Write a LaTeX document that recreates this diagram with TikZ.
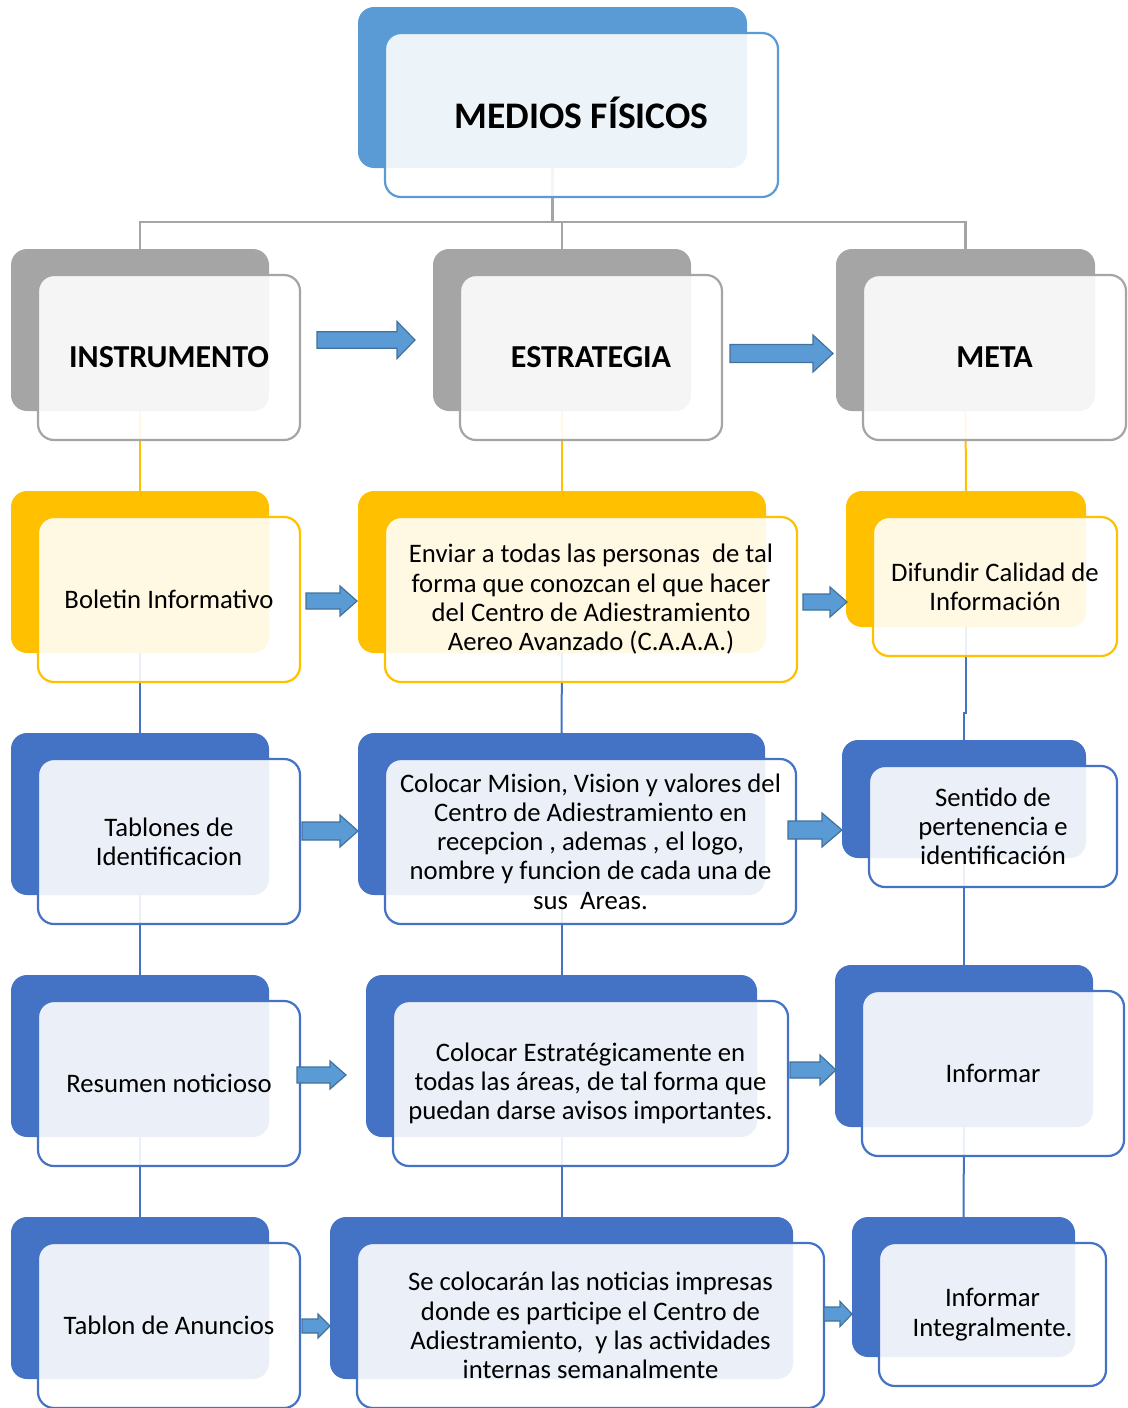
\documentclass[tikz,border=0pt]{standalone}
\usepackage{fontspec}
\setmainfont{Carlito}
\usetikzlibrary{backgrounds}

\definecolor{skyblue}{HTML}{5B9BD5}
\definecolor{midgray}{HTML}{A5A5A5}
\definecolor{gold}{HTML}{FFC000}
\definecolor{royal}{HTML}{4472C4}
\definecolor{arrowedge}{HTML}{41719C}

\newcommand\bodyfont{\fontsize{26.7}{29.3}\selectfont}
\newcommand\headfont{\fontsize{32}{36}\selectfont\bfseries}
\newcommand\rootfont{\fontsize{37.5}{42}\selectfont\bfseries}

\tikzset{
  backbox/.style={rectangle, rounded corners=16pt, fill=#1, draw=none,
    inner sep=0pt, outer sep=0pt},
  frontbox/.style={rectangle, rounded corners=16pt, draw=#1, line width=2.2pt,
    fill=white, fill opacity=0.89, text opacity=1, inner sep=0pt, outer sep=0pt,
    align=center, font=\bodyfont},
  link/.style={draw=#1, line width=2pt},
  blockarrow/.style={fill=skyblue, draw=arrowedge, line width=1.2pt, line join=miter},
}

% back card (#1b) and translucent front card (#1) from the back card's corners
\newcommand\cellpair[7]{%
  \node[backbox=#2, minimum width={#5pt-#3pt}, minimum height={#6pt-#4pt}]
    (#1b) at ({(#3+#5)/2},{(#4+#6)/2}) {};
  \node[frontbox=#2, minimum width={#5pt-#3pt+4pt}, minimum height={#6pt-#4pt+3pt}]
    (#1) at ({(#3+#5)/2+29},{(#4+#6)/2+27.5}) {#7};
}

% block arrow: start x, head base x, tip x, centre y, half shaft, half head
\newcommand\blockarrow[6]{%
  \draw[blockarrow] ({#1},{#4-#5}) -- ({#2},{#4-#5}) -- ({#2},{#4-#6}) --
    ({#3},{#4}) -- ({#2},{#4+#6}) -- ({#2},{#4+#5}) -- ({#1},{#4+#5}) -- cycle;
}

\begin{document}
\begin{tikzpicture}[x=1pt, y=-1pt]
\useasboundingbox (0,0) rectangle (1127,1408);

% root
\cellpair{root}{skyblue}{358}{7}{747}{168}{\rootfont\raisebox{4pt}{MEDIOS FÍSICOS}}

% column heads
\cellpair{inst}{midgray}{11}{249}{269}{411}{\headfont INSTRUMENTO}
\cellpair{estr}{midgray}{433}{249}{691}{411}{\headfont ESTRATEGIA}
\cellpair{meta}{midgray}{836}{249}{1095}{411}{\headfont META}

% row 1
\cellpair{bol}{gold}{11}{491}{269}{653}{Boletin Informativo}
\cellpair{env}{gold}{358}{491}{766}{653}{Enviar a todas las personas \ de tal\\forma que conozcan el que hacer\\del Centro de Adiestramiento\\Aereo Avanzado (C.A.A.A.)}
\cellpair{dif}{gold}{846}{491}{1086}{627}{Difundir Calidad de\\Información}

% row 2
\cellpair{tab}{royal}{11}{733}{269}{895}{Tablones de\\Identificacion}
\cellpair{mis}{royal}{358}{733}{765}{895}{Colocar Mision, Vision y valores del\\Centro de Adiestramiento en\\recepcion , ademas , el logo,\\nombre y funcion de cada una de\\sus \ Areas.}
\cellpair{sen}{royal}{842}{740}{1086}{858}{Sentido de\\pertenencia e\\identificación}

% row 3
\cellpair{res}{royal}{11}{975}{269}{1137}{Resumen noticioso}
\cellpair{est}{royal}{366}{975}{757}{1137}{Colocar Estratégicamente en\\todas las áreas, de tal forma que\\puedan darse avisos importantes.}
\cellpair{inf}{royal}{835}{965}{1093}{1127}{Informar}

% row 4
\cellpair{anu}{royal}{11}{1217}{269}{1379}{Tablon de Anuncios}
\cellpair{not}{royal}{330}{1217}{793}{1379}{Se colocarán las noticias impresas\\donde es participe el Centro de\\Adiestramiento, \ y las actividades\\internas semanalmente}
\cellpair{int}{royal}{852}{1217}{1075}{1357}{Informar\\Integralmente.}

% connectors run beneath the cards
\begin{scope}[on background layer]
  \draw[link=midgray, line width=2.5pt] (rootb.south) -- ++(0,54) -| (instb.north);
  \draw[link=midgray, line width=2.5pt] (rootb.south) -- ++(0,54) -| (estrb.north);
  \draw[link=midgray, line width=2.5pt] (rootb.south) -- ++(0,54) -| (metab.north);

  \draw[link=gold] (instb.south) -- (bolb.north);
  \draw[link=gold] (estrb.south) -- (envb.north);
  \draw[link=gold] (metab.south) -- (difb.north);

  \draw[link=royal] (bolb.south) -- (tabb.north);
  \draw[link=royal] (envb.south) -- (misb.north);
  \draw[link=royal] (difb.south) -- ++(0,86) -| (senb.north);

  \draw[link=royal] (tabb.south) -- (resb.north);
  \draw[link=royal] (misb.south) -- (estb.north);
  \draw[link=royal] (senb.south) -- (infb.north);

  \draw[link=royal] (resb.south) -- (anub.north);
  \draw[link=royal] (estb.south) -- (notb.north);
  \draw[link=royal] (infb.south) -- (intb.north);
\end{scope}

% block arrows between columns
\blockarrow{317}{397}{415}{340}{8.3}{18.5}
\blockarrow{730}{813}{833}{353.5}{9}{18.5}
\blockarrow{306}{340}{357}{601}{8}{15}
\blockarrow{803}{830}{847}{602}{8}{15}
\blockarrow{302}{340}{358}{831}{9}{16}
\blockarrow{788}{822}{842}{830}{9}{17}
\blockarrow{297}{330}{346}{1075}{8}{14}
\blockarrow{790}{820}{836}{1070}{8}{15}
\blockarrow{302}{318}{330}{1326}{7}{12}
\blockarrow{824}{840}{852}{1314}{7}{12.5}
\end{tikzpicture}
\end{document}
